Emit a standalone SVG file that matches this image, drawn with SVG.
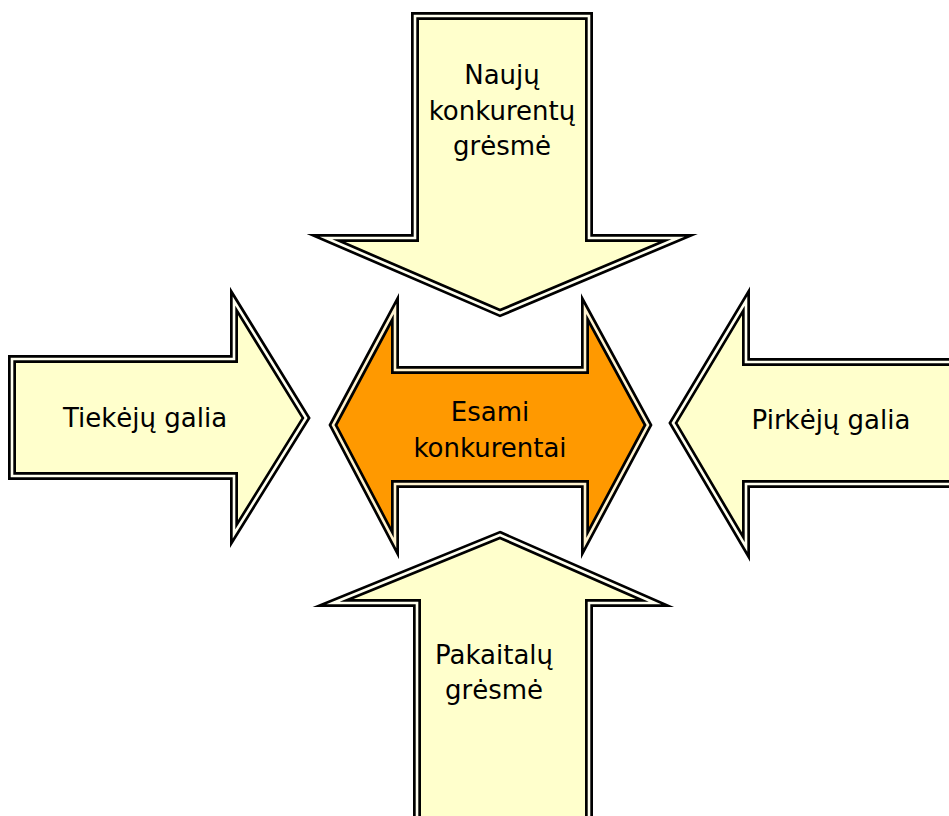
<svg xmlns="http://www.w3.org/2000/svg" width="949" height="816" viewBox="0 0 949 816">
<defs>
<style>
.o{stroke:#000;stroke-width:8;stroke-linejoin:miter;stroke-miterlimit:20}
.g{fill:none;stroke-width:2.6;stroke-linejoin:miter;stroke-miterlimit:20}
.y{fill:#FFFFCC}
.gy{stroke:#FFFFF0}
.or{fill:#FF9900}
.go{stroke:#FFF3D0}
text{font-family:"DejaVu Sans","Verdana",sans-serif;font-size:26px;fill:#000;text-anchor:middle}
</style>
</defs>
<rect width="949" height="816" fill="#fff"/>
<g id="top">
<path class="o y" d="M415,16 L589,16 L589,238 L678,238 L500,313 L326,238 L415,238 Z"/>
<path class="g gy" d="M415,16 L589,16 L589,238 L678,238 L500,313 L326,238 L415,238 Z"/>
<text x="502" y="84">Naujų</text>
<text x="502" y="120">konkurentų</text>
<text x="502" y="155">grėsmė</text>
</g>
<g id="left">
<path class="o y" d="M12,359 L234,359 L234,301 L306,418 L234,534 L234,476 L12,476 Z"/>
<path class="g gy" d="M12,359 L234,359 L234,301 L306,418 L234,534 L234,476 L12,476 Z"/>
<text x="145" y="427">Tiekėjų galia</text>
</g>
<g id="right">
<path class="o y" d="M960,362 L746,362 L746,301 L673,423 L746,547 L746,484 L960,484 Z"/>
<path class="g gy" d="M960,362 L746,362 L746,301 L673,423 L746,547 L746,484 L960,484 Z"/>
<text x="831" y="429">Pirkėjų galia</text>
</g>
<g id="bottom">
<path class="o y" d="M500,535 L655,603 L589,603 L589,830 L417,830 L417,603 L333,603 Z"/>
<path class="g gy" d="M500,535 L655,603 L589,603 L589,830 L417,830 L417,603 L333,603 Z"/>
<text x="494" y="664">Pakaitalų</text>
<text x="494" y="699">grėsmė</text>
</g>
<g id="center">
<path class="o or" d="M333,425 L395,309 L395,370 L585,370 L585,309 L648,425 L585,543 L585,484 L395,484 L395,543 Z"/>
<path class="g go" d="M333,425 L395,309 L395,370 L585,370 L585,309 L648,425 L585,543 L585,484 L395,484 L395,543 Z"/>
<text x="490" y="421">Esami</text>
<text x="490" y="457">konkurentai</text>
</g>
<g id="connectors"></g>
</svg>
